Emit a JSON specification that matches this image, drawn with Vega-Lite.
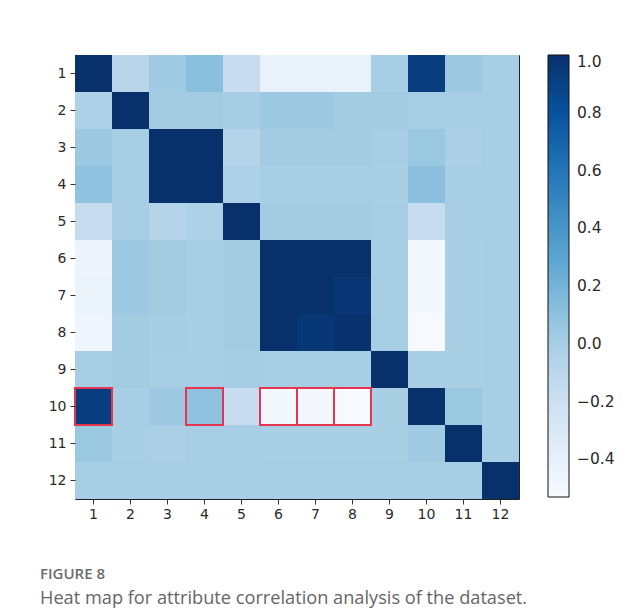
{
  "$schema": "https://vega.github.io/schema/vega-lite/v6.json",
  "width": 444,
  "height": 444,
  "autosize": {"type": "none"},
  "padding": {"left": 75, "top": 55, "right": 125, "bottom": 111},
  "background": "white",
  "data": {"values": [
    {"r":1,"c":1,"v":1.0},{"r":1,"c":2,"v":-0.08},{"r":1,"c":3,"v":0.04},{"r":1,"c":4,"v":0.12},{"r":1,"c":5,"v":-0.16},{"r":1,"c":6,"v":-0.42},{"r":1,"c":7,"v":-0.42},{"r":1,"c":8,"v":-0.42},{"r":1,"c":9,"v":0.0},{"r":1,"c":10,"v":0.92},{"r":1,"c":11,"v":0.05},{"r":1,"c":12,"v":0.0},
    {"r":2,"c":1,"v":-0.03},{"r":2,"c":2,"v":1.0},{"r":2,"c":3,"v":0.02},{"r":2,"c":4,"v":0.02},{"r":2,"c":5,"v":0.01},{"r":2,"c":6,"v":0.05},{"r":2,"c":7,"v":0.05},{"r":2,"c":8,"v":0.02},{"r":2,"c":9,"v":0.02},{"r":2,"c":10,"v":0.0},{"r":2,"c":11,"v":0.0},{"r":2,"c":12,"v":0.0},
    {"r":3,"c":1,"v":0.05},{"r":3,"c":2,"v":0.0},{"r":3,"c":3,"v":1.0},{"r":3,"c":4,"v":1.0},{"r":3,"c":5,"v":-0.07},{"r":3,"c":6,"v":0.02},{"r":3,"c":7,"v":0.02},{"r":3,"c":8,"v":0.02},{"r":3,"c":9,"v":0.0},{"r":3,"c":10,"v":0.06},{"r":3,"c":11,"v":-0.02},{"r":3,"c":12,"v":0.0},
    {"r":4,"c":1,"v":0.1},{"r":4,"c":2,"v":0.0},{"r":4,"c":3,"v":1.0},{"r":4,"c":4,"v":1.0},{"r":4,"c":5,"v":-0.03},{"r":4,"c":6,"v":0.0},{"r":4,"c":7,"v":0.0},{"r":4,"c":8,"v":0.0},{"r":4,"c":9,"v":-0.01},{"r":4,"c":10,"v":0.12},{"r":4,"c":11,"v":0.0},{"r":4,"c":12,"v":0.0},
    {"r":5,"c":1,"v":-0.16},{"r":5,"c":2,"v":0.0},{"r":5,"c":3,"v":-0.07},{"r":5,"c":4,"v":-0.03},{"r":5,"c":5,"v":1.0},{"r":5,"c":6,"v":0.02},{"r":5,"c":7,"v":0.02},{"r":5,"c":8,"v":0.02},{"r":5,"c":9,"v":0.0},{"r":5,"c":10,"v":-0.16},{"r":5,"c":11,"v":0.0},{"r":5,"c":12,"v":0.0},
    {"r":6,"c":1,"v":-0.45},{"r":6,"c":2,"v":0.05},{"r":6,"c":3,"v":0.02},{"r":6,"c":4,"v":0.0},{"r":6,"c":5,"v":0.02},{"r":6,"c":6,"v":1.0},{"r":6,"c":7,"v":1.0},{"r":6,"c":8,"v":1.0},{"r":6,"c":9,"v":0.0},{"r":6,"c":10,"v":-0.5},{"r":6,"c":11,"v":-0.01},{"r":6,"c":12,"v":0.0},
    {"r":7,"c":1,"v":-0.44},{"r":7,"c":2,"v":0.05},{"r":7,"c":3,"v":0.02},{"r":7,"c":4,"v":0.0},{"r":7,"c":5,"v":0.02},{"r":7,"c":6,"v":1.0},{"r":7,"c":7,"v":1.0},{"r":7,"c":8,"v":0.97},{"r":7,"c":9,"v":0.0},{"r":7,"c":10,"v":-0.5},{"r":7,"c":11,"v":-0.01},{"r":7,"c":12,"v":0.0},
    {"r":8,"c":1,"v":-0.46},{"r":8,"c":2,"v":0.02},{"r":8,"c":3,"v":0.01},{"r":8,"c":4,"v":0.0},{"r":8,"c":5,"v":0.02},{"r":8,"c":6,"v":1.0},{"r":8,"c":7,"v":0.96},{"r":8,"c":8,"v":0.99},{"r":8,"c":9,"v":0.0},{"r":8,"c":10,"v":-0.52},{"r":8,"c":11,"v":-0.01},{"r":8,"c":12,"v":0.0},
    {"r":9,"c":1,"v":0.0},{"r":9,"c":2,"v":0.02},{"r":9,"c":3,"v":0.0},{"r":9,"c":4,"v":0.0},{"r":9,"c":5,"v":0.01},{"r":9,"c":6,"v":0.0},{"r":9,"c":7,"v":0.0},{"r":9,"c":8,"v":0.0},{"r":9,"c":9,"v":1.0},{"r":9,"c":10,"v":-0.01},{"r":9,"c":11,"v":-0.01},{"r":9,"c":12,"v":0.0},
    {"r":10,"c":1,"v":0.92,"hl":true},{"r":10,"c":2,"v":0.0},{"r":10,"c":3,"v":0.05},{"r":10,"c":4,"v":0.1,"hl":true},{"r":10,"c":5,"v":-0.16},{"r":10,"c":6,"v":-0.5,"hl":true},{"r":10,"c":7,"v":-0.5,"hl":true},{"r":10,"c":8,"v":-0.52,"hl":true},{"r":10,"c":9,"v":-0.01},{"r":10,"c":10,"v":1.0},{"r":10,"c":11,"v":0.06},{"r":10,"c":12,"v":0.0},
    {"r":11,"c":1,"v":0.06},{"r":11,"c":2,"v":-0.01},{"r":11,"c":3,"v":-0.02},{"r":11,"c":4,"v":0.0},{"r":11,"c":5,"v":0.0},{"r":11,"c":6,"v":-0.01},{"r":11,"c":7,"v":-0.01},{"r":11,"c":8,"v":-0.01},{"r":11,"c":9,"v":-0.01},{"r":11,"c":10,"v":0.04},{"r":11,"c":11,"v":1.0},{"r":11,"c":12,"v":0.0},
    {"r":12,"c":1,"v":0.0},{"r":12,"c":2,"v":0.0},{"r":12,"c":3,"v":0.0},{"r":12,"c":4,"v":0.0},{"r":12,"c":5,"v":0.0},{"r":12,"c":6,"v":0.0},{"r":12,"c":7,"v":0.0},{"r":12,"c":8,"v":0.0},{"r":12,"c":9,"v":0.0},{"r":12,"c":10,"v":0.0},{"r":12,"c":11,"v":0.0},{"r":12,"c":12,"v":1.0}
  ]},
  "encoding": {
    "x": {"field": "c", "type": "ordinal", "sort": "ascending", "title": null},
    "y": {"field": "r", "type": "ordinal", "sort": "ascending", "title": null}
  },
  "layer": [
    {
      "mark": {"type": "rect"},
      "encoding": {
        "color": {
          "field": "v", "type": "quantitative",
          "scale": {
            "domain": [-0.53, -0.33875, -0.1475, 0.04375, 0.235, 0.42625, 0.6175, 0.80875, 1.0],
            "range": ["#f7fbff", "#deebf7", "#c6dbef", "#9ecae1", "#6baed6", "#4292c6", "#2171b5", "#08519c", "#08306b"],
            "interpolate": "rgb"
          },
          "legend": {
            "type": "gradient",
            "title": null,
            "orient": "right",
            "direction": "vertical",
            "offset": 29,
            "padding": 0,
            "gradientLength": 442,
            "gradientThickness": 21,
            "values": [-0.4, -0.2, 0, 0.2, 0.4, 0.6, 0.8, 1.0],
            "format": ".1f",
            "labelFont": "DejaVu Sans",
            "labelFontSize": 15.5,
            "labelColor": "#2a2a2a",
            "labelOffset": 8,
            "labelOverlap": false,
            "gradientStrokeColor": "#111",
            "gradientStrokeWidth": 1
          }
        }
      }
    },
    {
      "transform": [{"filter": "datum.hl"}],
      "mark": {"type": "rect", "filled": false, "stroke": "#e6364f", "strokeWidth": 2}
    }
  ],
  "title": {
    "text": "FIGURE 8",
    "subtitle": "Heat map for attribute correlation analysis of the dataset.",
    "orient": "bottom",
    "anchor": "start",
    "frame": "group",
    "dx": -35,
    "offset": 46,
    "font": "Open Sans",
    "fontSize": 15,
    "fontWeight": 600,
    "color": "#6b6b6b",
    "subtitleFont": "Open Sans",
    "subtitleFontSize": 18.2,
    "subtitleColor": "#666",
    "subtitlePadding": 8
  },
  "config": {
    "view": {"stroke": "#222", "strokeWidth": 1},
    "axis": {
      "domain": false,
      "grid": false,
      "labelFont": "DejaVu Sans",
      "labelFontSize": 14,
      "labelColor": "#2a2a2a",
      "tickColor": "#333",
      "tickSize": 5,
      "labelPadding": 3,
      "labelAngle": 0
    },
    "axisY": {"labelPadding": 4}
  }
}
